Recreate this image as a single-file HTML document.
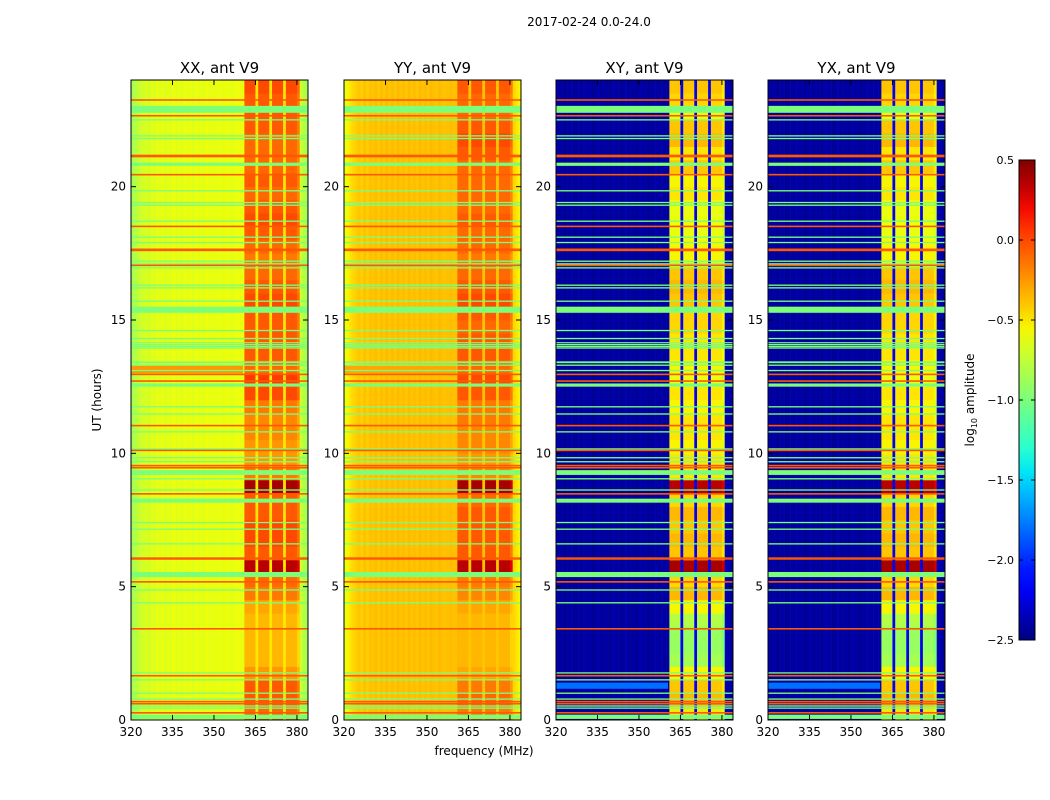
<!DOCTYPE html>
<html><head><meta charset="utf-8">
<style>
html,body{margin:0;padding:0;background:#fff;}
svg{display:block;font-family:"DejaVu Sans","Liberation Sans",sans-serif;}
</style></head>
<body>
<svg id="chart" width="1050" height="800" viewBox="0 0 1050 800">
<text x="589" y="26" font-size="12" text-anchor="middle">2017-02-24 0.0-24.0</text>
<text x="484" y="755" font-size="12" text-anchor="middle">frequency (MHz)</text>
<text x="0" y="0" font-size="12" text-anchor="middle" transform="translate(101,400) rotate(-90)">UT (hours)</text>
<g id="panels"></g>
<g id="cbar"></g>
</svg>
<script>
// ---------- data ----------
const panelTitles = ["XX, ant V9","YY, ant V9","XY, ant V9","YX, ant V9"];
const xTicks = [320,335,350,365,380];
const yTicks = [0,5,10,15,20];
const cbTicks = [0.5,0.0,-0.5,-1.0,-1.5,-2.0,-2.5];
// off-band per-MHz column levels (320..383), log10 amplitude
const colXX = [-0.85,-0.8,-0.75,-0.7,-0.68,-0.65,-0.7,-0.62,-0.66,-0.6,-0.64,-0.6,-0.66,-0.6,-0.64,-0.58,-0.63,-0.6,-0.64,-0.58,-0.62,-0.6,-0.64,-0.58,-0.62,-0.6,-0.63,-0.58,-0.62,-0.6,-0.62,-0.58,-0.6,-0.62,-0.58,-0.6,-0.62,-0.6,-0.58,-0.6,-0.6,-0.3,-0.3,-0.3,-0.3,-0.5,-0.3,-0.3,-0.3,-0.3,-0.5,-0.3,-0.3,-0.3,-0.3,-0.5,-0.3,-0.3,-0.3,-0.3,-0.4,-0.7,-0.8,-0.85];
const colYY = [-0.6,-0.55,-0.48,-0.45,-0.42,-0.4,-0.43,-0.38,-0.42,-0.38,-0.4,-0.37,-0.41,-0.37,-0.4,-0.36,-0.4,-0.37,-0.4,-0.36,-0.39,-0.37,-0.4,-0.36,-0.39,-0.37,-0.4,-0.36,-0.39,-0.37,-0.39,-0.36,-0.38,-0.39,-0.36,-0.38,-0.39,-0.38,-0.37,-0.38,-0.38,-0.2,-0.2,-0.2,-0.2,-0.4,-0.2,-0.2,-0.2,-0.2,-0.4,-0.2,-0.2,-0.2,-0.2,-0.4,-0.2,-0.2,-0.2,-0.2,-0.3,-0.45,-0.5,-0.55];
const colXY = [-2.38,-2.42,-2.4,-2.44,-2.42,-2.4,-2.44,-2.42,-2.4,-2.44,-2.38,-2.42,-2.4,-2.44,-2.42,-2.38,-2.44,-2.4,-2.42,-2.44,-2.38,-2.42,-2.4,-2.44,-2.42,-2.38,-2.44,-2.4,-2.42,-2.44,-2.38,-2.42,-2.4,-2.44,-2.42,-2.4,-2.4,-2.42,-2.4,-2.42,-2.4,-2,-2,-2,-2,-2.2,-2,-2,-2,-2,-2.2,-2,-2,-2,-2,-2.2,-2,-2,-2,-2,-2.1,-2.35,-2.4,-2.42];
const colYX = colXY.slice();
// in-band column mask: 1 = strip, 2 = gap
const bandMask = [0,0,0,0,0,0,0,0,0,0,0,0,0,0,0,0,0,0,0,0,0,0,0,0,0,0,0,0,0,0,0,0,0,0,0,0,0,0,0,0,0,1,1,1,1,2,1,1,1,1,2,1,1,1,1,2,1,1,1,1,1,0,0,0];
// in-band level per half hour
const bandXX = [-0.1,-0.05,-0.05,-0.25,-0.35,-0.35,-0.35,-0.35,-0.3,-0.15,-0.1,0.35,-0.05,0.0,0.0,-0.05,-0.05,0.4,-0.15,-0.25,-0.25,-0.2,-0.2,-0.15,0.0,0.05,-0.1,-0.05,-0.05,-0.05,-0.05,0.0,-0.05,-0.1,-0.15,-0.1,-0.05,0.0,-0.05,-0.1,-0.05,-0.1,-0.1,-0.1,-0.05,-0.05,-0.05,0.0];
const bandYY = [-0.15,-0.1,-0.15,-0.3,-0.35,-0.35,-0.35,-0.35,-0.3,-0.2,-0.15,0.35,-0.05,-0.05,-0.05,-0.05,-0.1,0.4,-0.2,-0.25,-0.2,-0.2,-0.15,-0.15,-0.05,0.0,-0.1,-0.05,-0.05,-0.1,-0.05,0.0,-0.05,-0.1,-0.15,-0.1,-0.1,-0.05,-0.1,-0.1,-0.1,-0.1,-0.05,0.0,-0.05,-0.1,-0.1,-0.05];
const bandXY = [-0.5,-0.35,-0.4,-0.55,-0.85,-0.9,-0.9,-0.8,-0.55,-0.35,-0.45,0.4,-0.4,-0.35,-0.4,-0.35,-0.45,0.35,-0.5,-0.5,-0.55,-0.5,-0.5,-0.55,-0.5,-0.6,-0.55,-0.5,-0.5,-0.45,-0.45,-0.4,-0.35,-0.4,-0.55,-0.55,-0.6,-0.6,-0.6,-0.5,-0.55,-0.4,-0.5,-0.35,-0.4,-0.6,-0.45,-0.4];
const bandYX = [-0.5,-0.35,-0.4,-0.55,-0.85,-0.9,-0.9,-0.8,-0.55,-0.35,-0.45,0.4,-0.4,-0.35,-0.4,-0.35,-0.45,0.35,-0.5,-0.5,-0.55,-0.5,-0.5,-0.55,-0.5,-0.6,-0.55,-0.5,-0.5,-0.45,-0.45,-0.4,-0.35,-0.4,-0.55,-0.55,-0.6,-0.6,-0.6,-0.5,-0.55,-0.4,-0.5,-0.35,-0.4,-0.6,-0.45,-0.4];
// flagged rows (hours): start, end, value
const flagStart = [23.22,22.77,22.63,22.48,21.88,21.78,21.1,20.78,20.42,19.82,19.38,19.28,18.68,18.48,18.08,17.88,17.58,17.18,17.08,17.02,16.93,16.28,16.18,15.68,15.27,14.58,14.28,14.13,14.05,13.98,13.93,13.38,13.28,13.08,12.93,12.68,12.5,11.72,11.45,11.01,10.78,10.14,10.08,9.81,9.66,9.51,9.43,9.19,9.02,8.6,8.45,8.15,7.38,7.13,6.58,6.05,6.01,5.36,5.15,4.85,4.37,3.39,1.74,1.63,1.48,0.98,0.76,0.66,0.58,0.5,0.42,0.24,0.04];
const flagEnd   = [23.28,23.03,22.69,22.53,21.93,21.83,21.2,20.9,20.48,19.87,19.43,19.33,18.73,18.54,18.13,17.93,17.68,17.23,17.13,17.08,16.98,16.33,16.23,15.73,15.5,14.63,14.33,14.17,14.1,14.03,13.97,13.45,13.33,13.13,12.99,12.74,12.62,11.77,11.5,11.07,10.83,10.19,10.14,9.86,9.71,9.57,9.49,9.37,9.07,8.65,8.51,8.3,7.43,7.18,6.63,6.1,6.06,5.55,5.21,4.9,4.42,3.45,1.79,1.69,1.53,1.03,0.81,0.72,0.64,0.55,0.47,0.3,0.2];
const flagValue = [-0.05,-1,-0.05,-1,-1,-1,-0.05,-1,-0.05,-1,-1,-1,-1,-0.05,-1,-1,-0.05,-1,-1,-0.05,-1,-1,-1,-1,-1,-1,-1,-1,-1,-1,-1,-1,-1,-1,-0.05,-0.05,-1,-1,-1,-0.05,-1,-1,-0.05,-1,-1,-0.05,-0.05,-1,-1,-1,-0.05,-1,-1,-1,-1,-0.05,-0.05,-1,-0.05,-1,-1,-0.05,-1,-0.05,-1,-1,-1,-0.05,-0.05,-1,-1,-0.05,-1];
// extra per-panel bands
const extraPanel = [0,1,2,3];
const extraStart = [13.0,13.0,1.17,1.17];
const extraEnd   = [13.3,13.3,1.4,1.4];
const extraValue = [-0.25,-0.3,-1.8,-1.8];

const cols = [colXX,colYY,colXY,colYX];
const bands = [bandXX,bandYY,bandXY,bandYX];
const gapLevel = [-0.5,-0.4,-2.2,-2.2];

// ---------- layout ----------
const NS="http://www.w3.org/2000/svg";
const panelX=[131,344,556,768], PW=177, PT=80, PH=640;
const F0=320,F1=384,T1=24;
function jet(v){
  let x=(v+2.5)/3; x=Math.max(0,Math.min(1,x));
  function itp(pts){for(let i=1;i<pts.length;i++){if(x<=pts[i][0]){const a=pts[i-1],b=pts[i];return a[1]+(b[1]-a[1])*(x-a[0])/(b[0]-a[0]);}}return pts[pts.length-1][1];}
  const r=itp([[0,0],[0.35,0],[0.66,1],[0.89,1],[1,0.5]]);
  const g=itp([[0,0],[0.125,0],[0.375,1],[0.64,1],[0.91,0],[1,0]]);
  const b=itp([[0,0.5],[0.11,1],[0.34,1],[0.65,0],[1,0]]);
  return `rgb(${Math.round(r*255)},${Math.round(g*255)},${Math.round(b*255)})`;
}
function mk(tag,attrs,parent){const e=document.createElementNS(NS,tag);for(const k in attrs)e.setAttribute(k,attrs[k]);parent.appendChild(e);return e;}
const root=document.getElementById('panels');
for(let p=0;p<4;p++){
  const x0=panelX[p];
  const xs=f=>x0+(f-F0)*PW/(F1-F0);
  const ys=t=>PT+PH-t*PH/T1;
  const g=mk('g',{},root);
  
  
  const clipId='clip'+p;
  const cp=mk('clipPath',{id:clipId},g); mk('rect',{x:x0,y:PT,width:PW,height:PH},cp);
  const hm=mk('g',{'clip-path':`url(#${clipId})`},g);
  
  
  const col=cols[p], band=bands[p];
  for(let c=0;c<col.length;c++){
    const fa=F0+c, xa=xs(fa), w=xs(fa+1)-xa+0.3;
    if(bandMask[c]===1){
      for(let h=0;h<band.length;h++){
        const ya=ys((h+1)/2), hh=ys(h/2)-ya+0.3;
        const r=mk('rect',{x:xa,y:ya,width:w,height:hh,fill:jet(band[h]+((c%5===0)?-0.1:0))},hm);
        
        
      }
    } else {
      const v = bandMask[c]===2 ? gapLevel[p] : col[c];
      const r=mk('rect',{x:xa,y:PT,width:w,height:PH,fill:jet(v)},hm);
      
      
    }
  }
  for(let i=0;i<extraPanel.length;i++){
    if(extraPanel[i]!==p) continue;
    const ya=ys(extraEnd[i]);
    const r=mk('rect',{x:x0,y:ya,width:xs(360.5)-x0,height:ys(extraStart[i])-ya,fill:jet(extraValue[i])},hm);
    
    
  }
  for(let i=0;i<flagStart.length;i++){
    const ya=ys(flagEnd[i]);
    const hh=Math.max(1.2,ys(flagStart[i])-ya);
    const r=mk('rect',{x:x0,y:ya,width:PW,height:hh,fill:jet(flagValue[i])},hm);
    
    
  }
  const frame=mk('rect',{x:x0,y:PT,width:PW,height:PH,fill:'none',stroke:'#000','stroke-width':1},g);
  
  
  const tt=mk('text',{x:x0+PW/2,y:PT-7,'font-size':15,'text-anchor':'middle'},g);
  tt.textContent=panelTitles[p];
  
  
  for(const f of xTicks){
    const x=xs(f);
    mk('line',{x1:x,x2:x,y1:PT+PH,y2:PT+PH-5,stroke:'#000'},g);
    mk('line',{x1:x,x2:x,y1:PT,y2:PT+5,stroke:'#000'},g);
    const t=mk('text',{x:x,y:PT+PH+16,'font-size':12,'text-anchor':'middle'},g);
    t.textContent=f;
    
    
  }
  for(const v of yTicks){
    const y=ys(v);
    mk('line',{x1:x0,x2:x0+5,y1:y,y2:y,stroke:'#000'},g);
    mk('line',{x1:x0+PW,x2:x0+PW-5,y1:y,y2:y,stroke:'#000'},g);
    const t=mk('text',{x:x0-5,y:y+4,'font-size':12,'text-anchor':'end'},g);
    t.textContent=v;
    
    
  }
}
// colorbar
const cb=document.getElementById('cbar');


const CX=1019,CW=16,CT=160,CH=480,VMIN=-2.5,VMAX=0.5;
const cy=v=>CT+CH-(v-VMIN)*CH/(VMAX-VMIN);
const defs=mk('defs',{},cb);
const lg=mk('linearGradient',{id:'jetg',x1:0,y1:1,x2:0,y2:0},defs);
for(let i=0;i<=20;i++){mk('stop',{offset:i/20,'stop-color':jet(VMIN+i*(VMAX-VMIN)/20)},lg);}
mk('rect',{x:CX,y:CT,width:CW,height:CH,fill:'url(#jetg)',stroke:'#000'},cb);
for(const v of cbTicks){
  const y=cy(v);
  mk('line',{x1:CX,x2:CX+4,y1:y,y2:y,stroke:'#000'},cb);
  mk('line',{x1:CX+CW,x2:CX+CW-4,y1:y,y2:y,stroke:'#000'},cb);
  const t=mk('text',{x:CX-5,y:y+4,'font-size':11,'text-anchor':'end'},cb);
  t.textContent=v.toFixed(1).replace('-','\u2212');
  
  
}
const cl=mk('text',{x:0,y:0,'font-size':12,'text-anchor':'middle',transform:'translate(974,400) rotate(-90)'},cb);
cl.innerHTML='log<tspan font-size="8" dy="3">10</tspan><tspan dy="-3"> amplitude</tspan>';


</script>
</body></html>
